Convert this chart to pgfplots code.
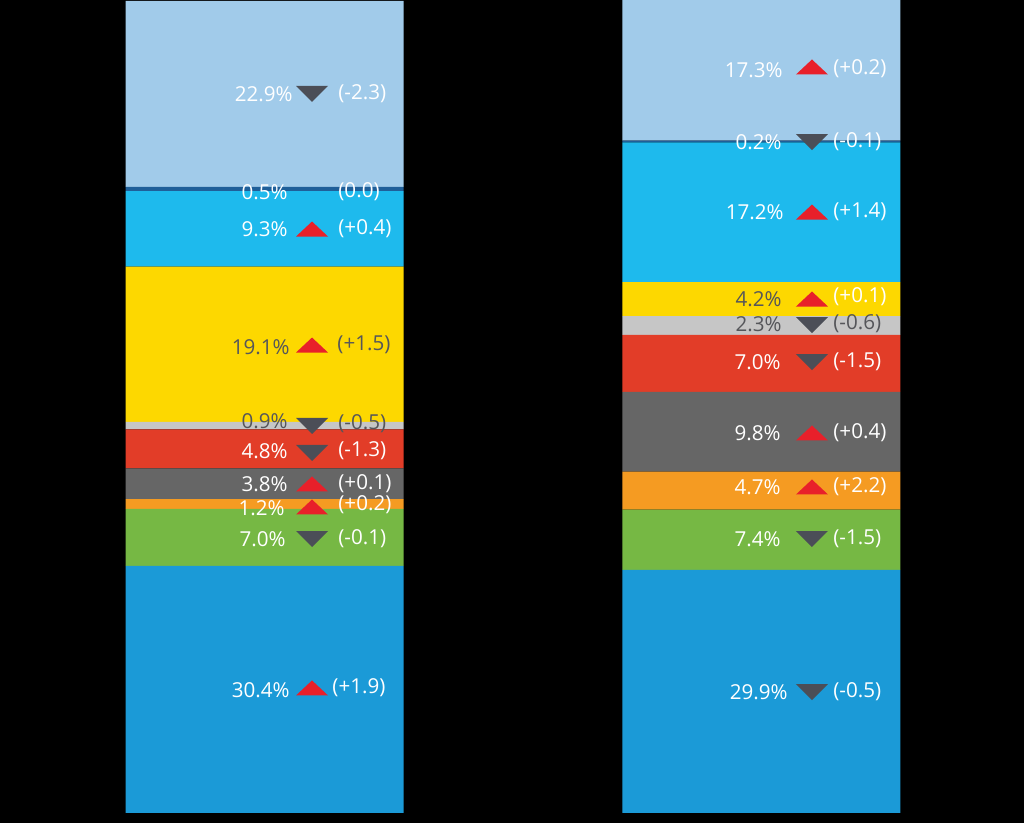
\documentclass[border=0pt]{standalone}
\usepackage{pgfplots}
\pgfplotsset{compat=1.18}
\usepackage{fontspec}
\setmainfont{Open Sans}
\definecolor{lblue}{HTML}{A1CBEA}
\definecolor{dblue}{HTML}{1F5F99}
\definecolor{cyanb}{HTML}{1EBAED}
\definecolor{yel}{HTML}{FDD800}
\definecolor{lgray}{HTML}{C6C6C6}
\definecolor{redb}{HTML}{E23D28}
\definecolor{dgray}{HTML}{666666}
\definecolor{orng}{HTML}{F59B22}
\definecolor{grn}{HTML}{76B844}
\definecolor{blu}{HTML}{1B9AD7}
\definecolor{upred}{HTML}{E8202A}
\definecolor{downg}{HTML}{4B4E57}
\definecolor{dtext}{HTML}{55565A}
\pgfdeclareplotmark{tup}{\pgfpathmoveto{\pgfpoint{-8pt}{-3.75pt}}\pgfpathlineto{\pgfpoint{8pt}{-3.75pt}}\pgfpathlineto{\pgfpoint{0pt}{3.75pt}}\pgfpathclose\pgfusepathqfill}
\pgfdeclareplotmark{tdown}{\pgfpathmoveto{\pgfpoint{-8pt}{4pt}}\pgfpathlineto{\pgfpoint{8pt}{4pt}}\pgfpathlineto{\pgfpoint{0pt}{-4pt}}\pgfpathclose\pgfusepathqfill}
\begin{document}
\begin{tikzpicture}[
  P/.style={anchor=east,inner sep=0pt,text=white,font=\fontsize{10.3}{12}\selectfont},
  D/.style={anchor=west,inner sep=0pt,text=white,font=\fontsize{10.3}{12}\selectfont}]
\fill[black] (0,0) rectangle (512pt,411.5pt);
\begin{axis}[at={(0,0)},anchor=south west,scale only axis,width=512pt,height=411.5pt,
  xmin=-0.5322,xmax=1.5282,ymin=-1.23,ymax=100,axis lines=none,xtick=\empty,ytick=\empty,
  ybar stacked,bar width=139pt]
\addplot[fill=blu,draw=none] coordinates {(0,30.4) (1,29.9)};
\addplot[fill=grn,draw=none] coordinates {(0,7.0) (1,7.4)};
\addplot[fill=orng,draw=none] coordinates {(0,1.2) (1,4.7)};
\addplot[fill=dgray,draw=none] coordinates {(0,3.8) (1,9.8)};
\addplot[fill=redb,draw=none] coordinates {(0,4.8) (1,7.0)};
\addplot[fill=lgray,draw=none] coordinates {(0,0.9) (1,2.3)};
\addplot[fill=yel,draw=none] coordinates {(0,19.1) (1,4.2)};
\addplot[fill=cyanb,draw=none] coordinates {(0,9.3) (1,17.2)};
\addplot[fill=dblue,draw=none] coordinates {(0,0.5) (1,0.2)};
\addplot[fill=lblue,draw=none] coordinates {(0,22.9) (1,17.3)};
\end{axis}
\begin{axis}[at={(0,0)},anchor=south west,scale only axis,width=512pt,height=411.5pt,
  xmin=-0.5322,xmax=1.5282,ymin=-1.23,ymax=100,axis lines=none,xtick=\empty,ytick=\empty,clip=false]
\addplot[only marks,mark=tup,color=upred] coordinates {(0.0956,71.83) (0.0956,57.56) (0.0956,40.47) (0.0956,37.64) (0.0956,15.38)
 (1.1016,91.76) (1.1016,73.92) (1.1016,63.22) (1.1016,46.74) (1.1016,40.10)};
\addplot[only marks,mark=tdown,color=downg] coordinates {(0.0956,88.44) (0.0956,47.60) (0.0956,44.28) (0.0956,33.70)
 (1.1016,82.53) (1.1016,60.02) (1.1016,55.47) (1.1016,33.70) (1.1016,14.88)};
% left bar
\node[P,xshift=14.25pt] at (axis cs:0,88.44) {22.9\%};
\node[D,xshift=36.75pt] at (axis cs:0,88.44) {(-2.3)};
\node[P,xshift=11.75pt] at (axis cs:0,76.38) {0.5\%};
\node[D,xshift=36.75pt] at (axis cs:0,76.38) {(0.0)};
\node[P,xshift=11.75pt] at (axis cs:0,71.83) {9.3\%};
\node[D,xshift=36.75pt] at (axis cs:0,71.83) {(+0.4)};
\node[P,xshift=12.75pt,text=dtext] at (axis cs:0,57.32) {19.1\%};
\node[D,xshift=36.25pt,text=dtext] at (axis cs:0,57.56) {(+1.5)};
\node[P,xshift=11.75pt,text=dtext] at (axis cs:0,48.22) {0.9\%};
\node[D,xshift=36.75pt,text=dtext] at (axis cs:0,47.85) {(-0.5)};
\node[P,xshift=11.75pt] at (axis cs:0,44.53) {4.8\%};
\node[D,xshift=36.75pt] at (axis cs:0,44.53) {(-1.3)};
\node[P,xshift=11.75pt] at (axis cs:0,40.47) {3.8\%};
\node[D,xshift=36.75pt] at (axis cs:0,40.47) {(+0.1)};
\node[P,xshift=10.25pt] at (axis cs:0,37.52) {1.2\%};
\node[D,xshift=36.75pt] at (axis cs:0,37.88) {(+0.2)};
\node[P,xshift=10.75pt] at (axis cs:0,33.70) {7.0\%};
\node[D,xshift=36.75pt] at (axis cs:0,33.70) {(-0.1)};
\node[P,xshift=12.75pt] at (axis cs:0,15.13) {30.4\%};
\node[D,xshift=33.75pt] at (axis cs:0,15.38) {(+1.9)};
% right bar
\node[P,xshift=10.75pt] at (axis cs:1,91.39) {17.3\%};
\node[D,xshift=35.75pt] at (axis cs:1,91.51) {(+0.2)};
\node[P,xshift=10.25pt] at (axis cs:1,82.53) {0.2\%};
\node[D,xshift=35.75pt] at (axis cs:1,82.53) {(-0.1)};
\node[P,xshift=11.25pt] at (axis cs:1,73.92) {17.2\%};
\node[D,xshift=35.75pt] at (axis cs:1,73.92) {(+1.4)};
\node[P,xshift=10.25pt,text=dtext] at (axis cs:1,63.22) {4.2\%};
\node[D,xshift=35.75pt] at (axis cs:1,63.47) {(+0.1)};
\node[P,xshift=10.25pt,text=dtext] at (axis cs:1,60.15) {2.3\%};
\node[D,xshift=35.75pt,text=dtext] at (axis cs:1,60.15) {(-0.6)};
\node[P,xshift=9.75pt] at (axis cs:1,55.47) {7.0\%};
\node[D,xshift=35.75pt] at (axis cs:1,55.47) {(-1.5)};
\node[P,xshift=9.75pt] at (axis cs:1,46.74) {9.8\%};
\node[D,xshift=35.75pt] at (axis cs:1,46.74) {(+0.4)};
\node[P,xshift=9.75pt] at (axis cs:1,40.10) {4.7\%};
\node[D,xshift=35.75pt] at (axis cs:1,40.10) {(+2.2)};
\node[P,xshift=9.75pt] at (axis cs:1,33.70) {7.4\%};
\node[D,xshift=35.75pt] at (axis cs:1,33.70) {(-1.5)};
\node[P,xshift=13.25pt] at (axis cs:1,14.88) {29.9\%};
\node[D,xshift=35.75pt] at (axis cs:1,14.88) {(-0.5)};
\end{axis}
\end{tikzpicture}
\end{document}
